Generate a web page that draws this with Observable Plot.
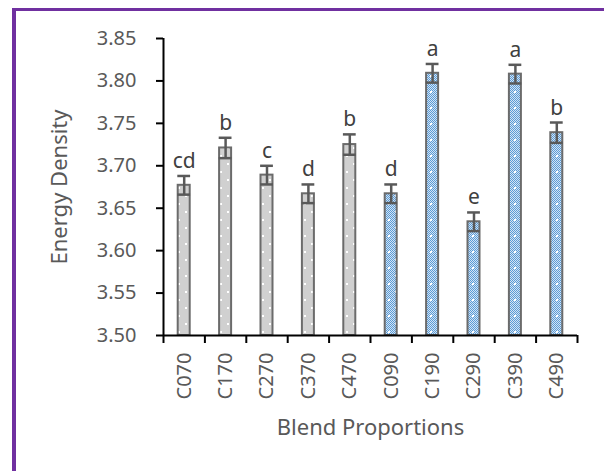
<!DOCTYPE html>
<html>
<head>
<meta charset="utf-8">
<script src="https://cdn.jsdelivr.net/npm/d3@7"></script>
<script src="https://cdn.jsdelivr.net/npm/@observablehq/plot@0.6"></script>
<style>
  html, body { margin: 0; padding: 0; background: #fff; overflow: hidden; }
  #wrap { position: relative; width: 604px; height: 471px; overflow: hidden; }
  #frame { position: absolute; left: 12px; top: 8px; width: 800px; height: 800px;
           border-left: 4px solid #7030a0; border-top: 3px solid #7030a0; box-sizing: border-box; }
  #chart { position: absolute; left: 0; top: 0; }
</style>
</head>
<body>
<div id="wrap"><div id="frame"></div><div id="chart"></div></div>
<script>
const categories = ["C070","C170","C270","C370","C470","C090","C190","C290","C390","C490"];
const groups = ["70","70","70","70","70","90","90","90","90","90"];
const values = [3.677, 3.721, 3.689, 3.667, 3.725, 3.667, 3.809, 3.634, 3.808, 3.739];
const errors = [0.011, 0.012, 0.011, 0.011, 0.012, 0.011, 0.011, 0.011, 0.011, 0.012];
const letters = ["cd","b","c","d","b","d","a","e","a","b"];
const yTicks = [3.50, 3.55, 3.60, 3.65, 3.70, 3.75, 3.80, 3.85];

const data = categories.map((c, i) => ({
  i, c, g: groups[i], v: values[i], e: errors[i], lo: values[i] - errors[i], hi: values[i] + errors[i], l: letters[i]
}));
const boundaries = d3.range(categories.length + 1);
const centers = categories.map((c, i) => i + 0.5);

const font = "'Noto Sans', 'Open Sans', sans-serif";
const barInset = 14.7;
const capInset = 14.3;

const plot = Plot.plot({
  width: 604,
  height: 471,
  marginLeft: 163,
  marginRight: 27,
  marginTop: 38,
  marginBottom: 136,
  style: { fontFamily: font, background: "transparent", overflow: "visible" },
  x: { type: "linear", domain: [0, categories.length] },
  y: { domain: [3.5, 3.85] },
  marks: [
    Plot.rectY(data, { filter: d => d.g === "70", x1: "i", x2: d => d.i + 1, y1: 3.5, y2: "v",
      insetLeft: barInset, insetRight: barInset, fill: "url(#grayDots)", stroke: "#6b6b6b", strokeWidth: 2 }),
    Plot.rectY(data, { filter: d => d.g === "90", x1: "i", x2: d => d.i + 1, y1: 3.5, y2: "v",
      insetLeft: barInset, insetRight: barInset, fill: "url(#blueDots)", stroke: "#6b6b6b", strokeWidth: 2 }),
    Plot.ruleX(data, { x: d => d.i + 0.5, y1: "lo", y2: "hi", stroke: "#595959", strokeWidth: 2.5 }),
    Plot.ruleY(data, { y: "hi", x1: "i", x2: d => d.i + 1, insetLeft: capInset, insetRight: capInset, stroke: "#595959", strokeWidth: 2.5 }),
    Plot.ruleY(data, { y: "lo", x1: "i", x2: d => d.i + 1, insetLeft: capInset, insetRight: capInset, stroke: "#595959", strokeWidth: 2.5 }),
    Plot.text(data, { x: d => d.i + 0.5, y: "hi", text: "l", dy: -8, lineAnchor: "bottom",
      fontSize: 21, fill: "#404040" }),
    // axis lines
    Plot.ruleX([0], { y1: 3.5, y2: 3.85, stroke: "#000", strokeWidth: 2 }),
    Plot.ruleY([3.5], { x1: 0, x2: categories.length, stroke: "#000", strokeWidth: 2 }),
    Plot.axisY({ ticks: yTicks, tickFormat: d3.format(".2f"), tickSize: 7, tickPadding: 20,
      fontSize: 20, color: "#595959", stroke: "#000", strokeWidth: 2, label: null }),
    Plot.axisX({ ticks: boundaries, tickFormat: () => "", tickSize: 8, stroke: "#000", strokeWidth: 2, label: null }),
    Plot.axisX({ ticks: centers, tickFormat: d => categories[Math.floor(d)], tickSize: 0, tickPadding: 17,
      tickRotate: -90, fontSize: 20, color: "#595959", label: null }),
    Plot.text(["Energy Density"], { frameAnchor: "left", dx: -104, rotate: -90, text: d => d,
      fontSize: 22, fill: "#595959", lineAnchor: "middle", textAnchor: "middle" }),
    Plot.text(["Blend Proportions"], { frameAnchor: "bottom", dy: 99, text: d => d,
      fontSize: 22, fill: "#595959", lineAnchor: "bottom" })
  ]
});

const defs = `
<defs>
  <pattern id="chk" patternUnits="userSpaceOnUse" width="2" height="2">
    <rect width="2" height="2" fill="#d3e4f5"/>
    <rect x="0" y="0" width="1" height="1" fill="#5b9bd5"/>
    <rect x="1" y="1" width="1" height="1" fill="#5b9bd5"/>
  </pattern>
  <pattern id="blueDots" patternUnits="userSpaceOnUse" width="14" height="16">
    <rect width="14" height="16" fill="url(#chk)"/>
    <rect x="3" y="3" width="2" height="2" fill="#fff"/>
    <rect x="10" y="11" width="2" height="2" fill="#fff"/>
  </pattern>
  <pattern id="grayDots" patternUnits="userSpaceOnUse" width="14" height="16">
    <rect width="14" height="16" fill="#d0d0d0"/>
    <rect x="3" y="3" width="2" height="2" fill="#fff"/>
    <rect x="10" y="11" width="2" height="2" fill="#fff"/>
  </pattern>
</defs>`;
plot.insertAdjacentHTML("afterbegin", defs);
document.getElementById("chart").appendChild(plot);
</script>
</body>
</html>
